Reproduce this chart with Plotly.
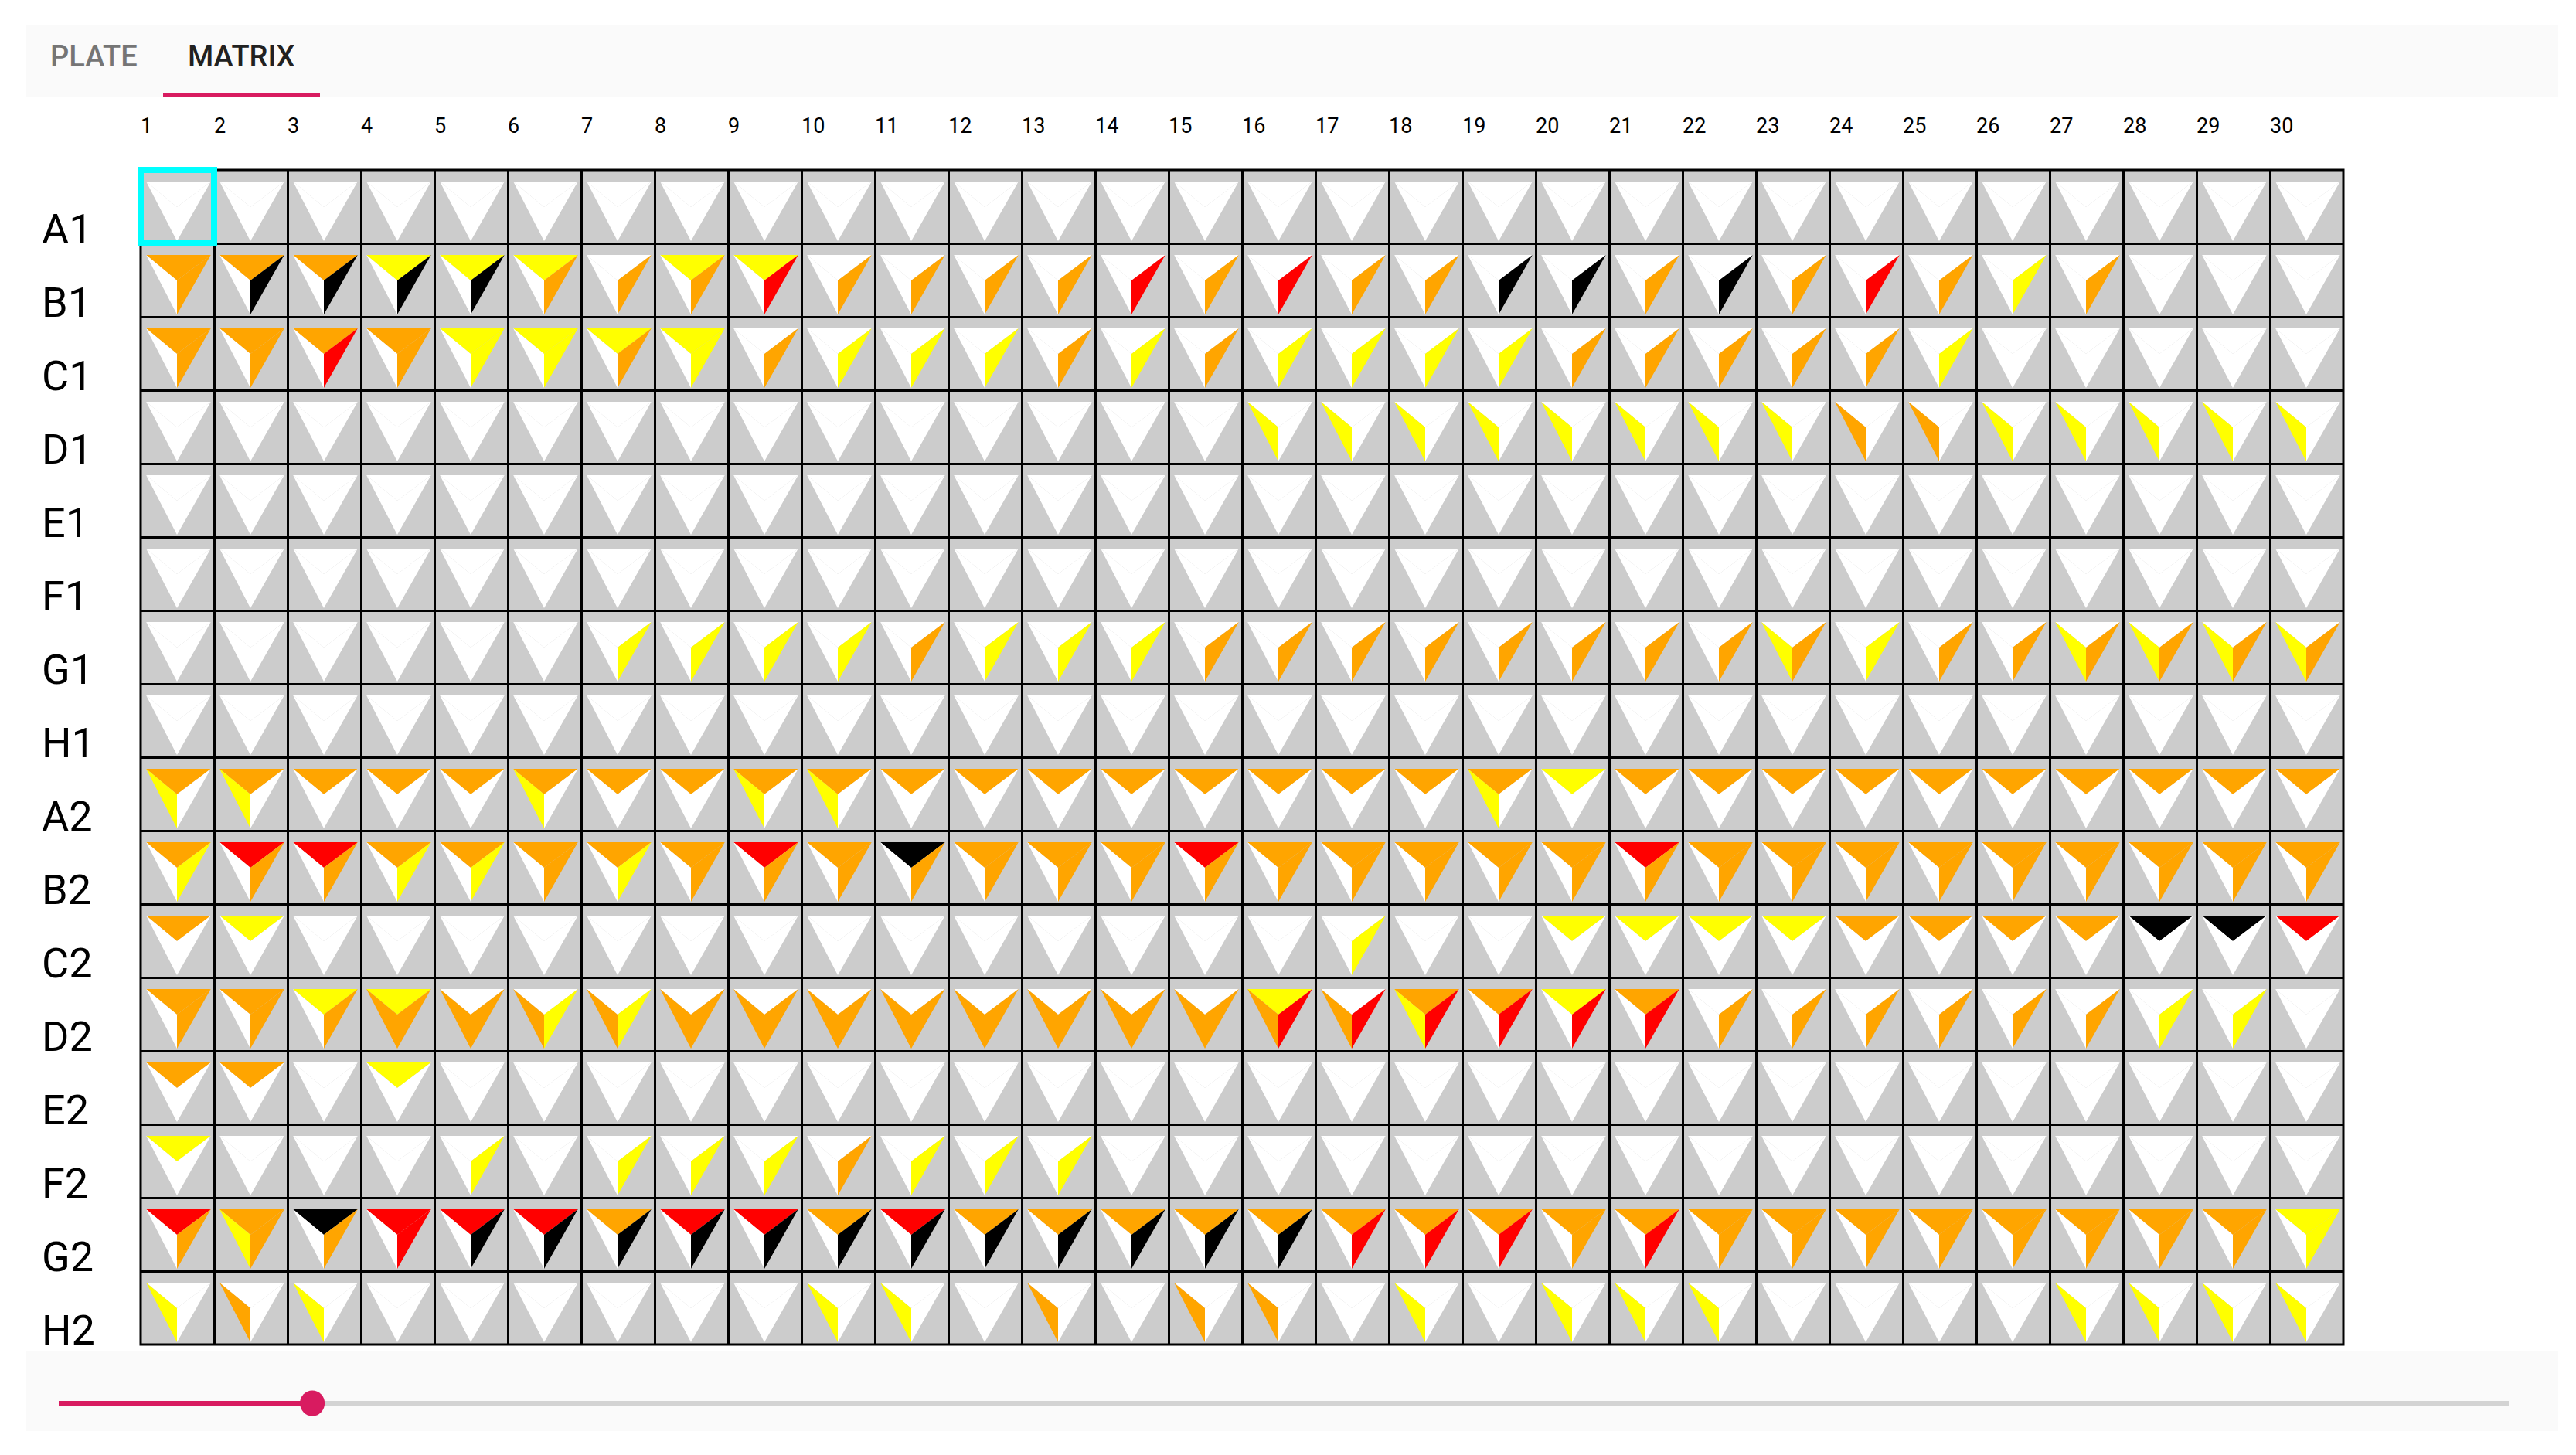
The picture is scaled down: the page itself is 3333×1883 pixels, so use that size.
import plotly.graph_objects as go

# Plate matrix: 16 wells (rows) by 30 cycles (columns)
ROWS = ["A1", "B1", "C1", "D1", "E1", "F1", "G1", "H1",
        "A2", "B2", "C2", "D2", "E2", "F2", "G2", "H2"]
COLUMNS = [str(i) for i in range(1, 31)]
TABS = ["PLATE", "MATRIX"]

# One letter per cell: W none, Y low, O medium, R high, K top level
BLANK = "W" * 30
TOP_LEVEL = [
    BLANK,
    "OOOYYYWY" "YWWWWWWW" "WWWWWWWW" "WWWWWW",
    "OOOOYYYY" "WWWWWWWW" "WWWWWWWW" "WWWWWW",
    BLANK,
    BLANK,
    BLANK,
    BLANK,
    BLANK,
    "OOOOOOOO" "OOOOOOOO" "OOOYOOOO" "OOOOOO",
    "ORROOOOO" "ROKOOORO" "OOOOROOO" "OOOOOO",
    "OYWWWWWW" "WWWWWWWW" "WWWYYYYO" "OOOKKR",
    "OOYYWWWW" "WWWWWWWY" "WOOYOWWW" "WWWWWW",
    "OOWYWWWW" "WWWWWWWW" "WWWWWWWW" "WWWWWW",
    "YWWWWWWW" "WWWWWWWW" "WWWWWWWW" "WWWWWW",
    "ROKRRROR" "ROROOOOO" "OOOOOOOO" "OOOOOY",
    BLANK,
]
LEFT_LEVEL = [
    BLANK,
    BLANK,
    BLANK,
    "WWWWWWWW" "WWWWWWWY" "YYYYYYYO" "OYYYYY",
    BLANK,
    BLANK,
    "WWWWWWWW" "WWWWWWWW" "WWWWWWYW" "WWYYYY",
    BLANK,
    "YYWWWYWW" "YYWWWWWW" "WWYWWWWW" "WWWWWW",
    BLANK,
    BLANK,
    "WWWOOOOO" "OOOOOOOO" "OYWWWWWW" "WWWWWW",
    BLANK,
    BLANK,
    "WYWWWWWW" "WWWWWWWW" "WWWWWWWW" "WWWWWW",
    "YOYWWWWW" "WYYWOWOO" "WYWYYYWW" "WWYYYY",
]
RIGHT_LEVEL = [
    BLANK,
    "OKKKKOOO" "ROOOOROR" "OOKKOKOR" "OYOWWW",
    "OOROYYOY" "OYYYOYOY" "YYYOOOOO" "YWWWWW",
    BLANK,
    BLANK,
    BLANK,
    "WWWWWWYY" "YYOYYYOO" "OOOOOOOY" "OOOOOO",
    BLANK,
    BLANK,
    "YOOYYOYO" "OOOOOOOO" "OOOOOOOO" "OOOOOO",
    "WWWWWWWW" "WWWWWWWW" "YWWWWWWW" "WWWWWW",
    "OOOOOYYO" "OOOOOOOR" "RRRRROOO" "OOOYYW",
    BLANK,
    "WWWWYWYY" "YOYYYWWW" "WWWWWWWW" "WWWWWW",
    "OOORKKKK" "KKKKKKKK" "RRROROOO" "OOOOOY",
    BLANK,
]
SELECTED_CELL = (0, 0)
SLIDER_POSITION = 0.1035

COLORS = {"W": "#ffffff", "Y": "#ffff00", "O": "#ffa500", "R": "#ff0000", "K": "#000000"}
PINK = "#d81b60"

# Corners of the glyph inside a cell, in cell units
TOP_LEFT = (0.075, 0.158)
TOP_RIGHT = (0.955, 0.158)
INNER = (47 / 95, 0.505)
TIP = (47 / 95, 0.968)
REGIONS = [
    ("top", TOP_LEVEL, [TOP_LEFT, TOP_RIGHT, INNER]),
    ("left", LEFT_LEVEL, [TOP_LEFT, INNER, TIP]),
    ("right", RIGHT_LEVEL, [TOP_RIGHT, INNER, TIP]),
]

# Page layout, in pixels of the screenshot. The browser adds 8px round the body.
PAGE_W, PAGE_H = 3333, 1883
BODY_MARGIN = 8
GRID_L, GRID_R, GRID_T, GRID_B = 182, 3032, 220, 1740


def page_x(px):
    return (px - GRID_L) / (GRID_R - GRID_L)


def page_y(py):
    return 1 - (py - GRID_T) / (GRID_B - GRID_T)


def page_rect(x0, y0, x1, y1, color, kind="rect"):
    return dict(type=kind, xref="paper", yref="paper", x0=page_x(x0), x1=page_x(x1),
                y0=page_y(y1), y1=page_y(y0), fillcolor=color, line_width=0, layer="below")


fig = go.Figure()

# One trace per region and level, so the region edges stay faintly visible
for name, levels, corners in REGIONS:
    for code, color in COLORS.items():
        xs, ys = [], []
        for r, row in enumerate(levels):
            for c, value in enumerate(row):
                if value != code:
                    continue
                for cx, cy in corners + corners[:1]:
                    xs.append(c + cx)
                    ys.append(r + cy)
                xs.append(None)
                ys.append(None)
        if xs:
            fig.add_trace(go.Scatter(x=xs, y=ys, mode="lines", fill="toself", fillcolor=color,
                                     line=dict(width=0), name=name, hoverinfo="skip", showlegend=False))

annotations = []
for i, label in enumerate(COLUMNS):
    annotations.append(dict(text=label, xref="x", x=i, xanchor="left", xshift=-2, yref="paper", y=page_y(163),
                            yanchor="middle", showarrow=False, font=dict(family="Roboto", size=27, color="#000000")))
for i, label in enumerate(ROWS):
    annotations.append(dict(text=label, xref="paper", x=page_x(52), xanchor="left", yref="y", y=i + 1,
                            yanchor="bottom", yshift=-15, showarrow=False,
                            font=dict(family="Roboto", size=54, color="#000000")))
annotations.append(dict(text=TABS[0], xref="paper", x=page_x(121), xanchor="center", yref="paper", y=page_y(73),
                        yanchor="middle", showarrow=False,
                        font=dict(family="Roboto", size=38, color="#757575", weight=500)))
annotations.append(dict(text=TABS[1], xref="paper", x=page_x(312), xanchor="center", yref="paper", y=page_y(73),
                        yanchor="middle", showarrow=False,
                        font=dict(family="Roboto", size=38, color="#212121", weight=500)))

track_l, track_r, track_y = 76, 3246, 1816
thumb_x = track_l + SLIDER_POSITION * (track_r - track_l)
sel_row, sel_col = SELECTED_CELL
shapes = [
    page_rect(34, 33, 3310, 125, "#fafafa"),
    page_rect(211, 120, 414, 125, PINK),
    page_rect(34, 1748, 3310, 1852, "#fafafa"),
    page_rect(track_l, track_y - 3, track_r, track_y + 3, "#d3d3d3"),
    page_rect(track_l, track_y - 3, thumb_x, track_y + 3, PINK),
    page_rect(thumb_x - 16, track_y - 16.5, thumb_x + 16, track_y + 16.5, PINK, kind="circle"),
    # outer border: centred on the grid edge, like the inner grid lines
    dict(type="rect", xref="paper", yref="paper", x0=0, x1=1, y0=0, y1=1,
         line=dict(color="#000000", width=3), layer="above"),
    # paper refs: a shape on the data axes would get its outer half clipped
    dict(type="rect", xref="paper", yref="paper",
         x0=sel_col / len(COLUMNS), x1=(sel_col + 1) / len(COLUMNS),
         y0=1 - (sel_row + 1) / len(ROWS), y1=1 - sel_row / len(ROWS),
         line=dict(color="#00ffff", width=8), layer="above"),
]

axis = dict(tickmode="linear", tick0=0, dtick=1, showgrid=True, gridcolor="#000000", gridwidth=3,
            showticklabels=False, ticks="", zeroline=False, showline=False, fixedrange=True)

fig.update_layout(
    width=PAGE_W - 2 * BODY_MARGIN,
    height=PAGE_H - 2 * BODY_MARGIN,
    autosize=False,
    margin=dict(l=GRID_L - BODY_MARGIN, r=PAGE_W - GRID_R - BODY_MARGIN,
                t=GRID_T - BODY_MARGIN, b=PAGE_H - GRID_B - BODY_MARGIN, pad=0),
    paper_bgcolor="#ffffff",
    plot_bgcolor="#cccccc",
    showlegend=False,
    xaxis=dict(axis, range=[0, len(COLUMNS)]),
    yaxis=dict(axis, range=[len(ROWS), 0]),
    annotations=annotations,
    shapes=shapes,
)

fig.write_html("out.html")
